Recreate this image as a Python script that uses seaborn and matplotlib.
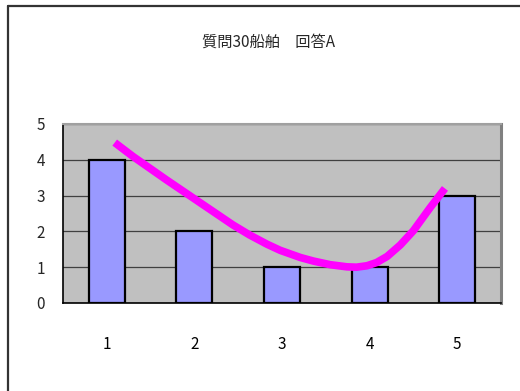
import numpy as np
import pandas as pd
import matplotlib
matplotlib.use("Agg")
import matplotlib.pyplot as plt
import seaborn as sns

# donnees
categories = ["1", "2", "3", "4", "5"]
counts = [4, 2, 1, 1, 3]

# courbe magenta (position de categorie 0-index, valeur)
curve_x = [0.09, 0.30, 0.68, 1.06, 1.44, 1.63, 1.83, 1.98, 2.21, 2.36, 2.55, 2.74,
           2.85, 2.97, 3.08, 3.20, 3.35, 3.50, 3.69, 3.86]
curve_y = [4.48, 4.09, 3.44, 2.81, 2.18, 1.90, 1.64, 1.47, 1.27, 1.17, 1.07, 1.01,
           1.00, 1.04, 1.13, 1.30, 1.62, 2.02, 2.66, 3.20]

title = "質問30船舶\u3000回答A"

sns.set_theme(style="white")
plt.rcParams["font.family"] = ["Noto Sans CJK JP", "DejaVu Sans"]

fig = plt.figure(figsize=(5.2, 3.91), dpi=100)
ax = fig.add_axes([0.1212, 0.2251, 0.8423, 0.4578])
ax.set_facecolor("#C0C0C0")

df = pd.DataFrame({"cat": categories, "n": counts})
sns.barplot(data=df, x="cat", y="n", color="#9999FF", saturation=1, width=0.41,
            edgecolor="black", linewidth=1.6, ax=ax, zorder=3)

line_df = pd.DataFrame({"x": curve_x, "y": curve_y})
sns.lineplot(data=line_df, x="x", y="y", color="#FF00FF", linewidth=5.5, ax=ax,
             zorder=4, solid_capstyle="butt", solid_joinstyle="round")

ax.set_xlim(-0.5, 4.5)
ax.set_ylim(0, 5)
ax.set_yticks(range(0, 6))
ax.yaxis.grid(True, color="#404040", linewidth=0.9, zorder=1)
ax.set_axisbelow(True)
ax.set_xlabel("")
ax.set_ylabel("")

ax.set_xticks(range(5))
ax.set_xticklabels(categories)
ax.set_xticks(np.arange(-0.5, 5.0, 1.0), minor=True)
ax.tick_params(axis="x", which="major", length=0, pad=24, labelsize=11, colors="black")
ax.tick_params(axis="x", which="minor", direction="in", length=4, width=1, color="#333333")
ax.tick_params(axis="y", which="major", direction="out", length=4, width=1,
               color="#333333", labelsize=11, pad=9)

for s in ["left", "bottom"]:
    ax.spines[s].set_color("black")
    ax.spines[s].set_linewidth(1.2)
ax.spines["right"].set_color("#808080")
ax.spines["right"].set_linewidth(2.2)
ax.spines["top"].set_color("#A0A0A0")
ax.spines["top"].set_linewidth(1.5)

fig.text(268 / 520, 1 - 42 / 391, title, ha="center", va="center", fontsize=11)

# bordure exterieure (gauche et haut)
fig.add_artist(plt.Line2D([8 / 520, 8 / 520], [0, 1 - 6 / 391], color="#333333",
                          linewidth=1.6, transform=fig.transFigure))
fig.add_artist(plt.Line2D([8 / 520, 1], [1 - 6 / 391, 1 - 6 / 391], color="#333333",
                          linewidth=1.6, transform=fig.transFigure))

fig.savefig("out.png", dpi=100)
